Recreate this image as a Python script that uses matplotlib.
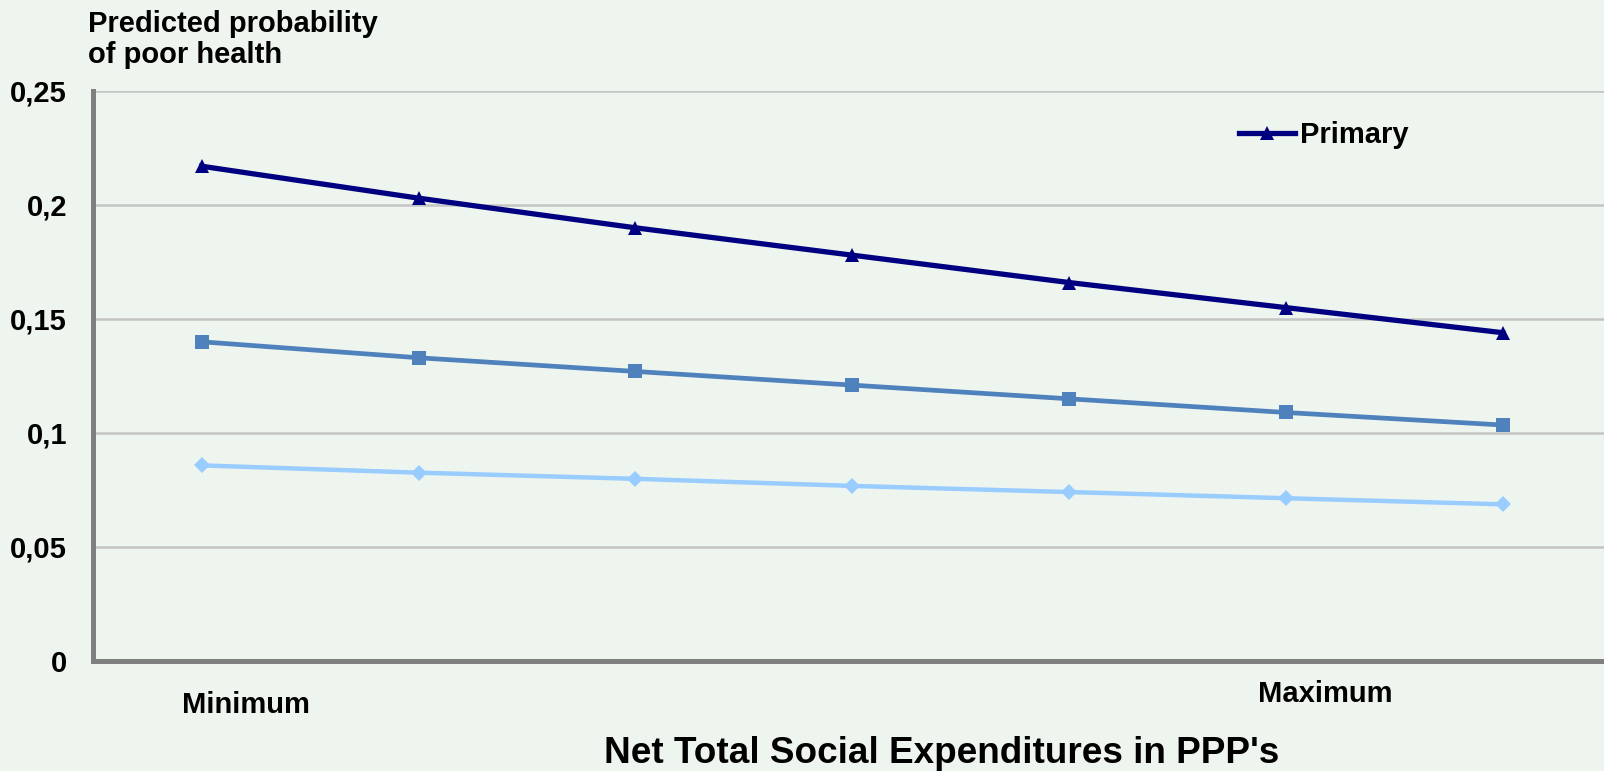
import matplotlib
matplotlib.use("Agg")
import matplotlib.pyplot as plt
from matplotlib.ticker import FixedLocator, FuncFormatter

# Predicted probability of poor health across seven steps of social expenditure
steps = list(range(7))
primary = [0.217, 0.203, 0.190, 0.178, 0.166, 0.155, 0.144]
secondary = [0.140, 0.133, 0.127, 0.121, 0.115, 0.109, 0.1035]
tertiary = [0.0858, 0.0826, 0.0799, 0.0768, 0.0741, 0.0714, 0.0687]

y_ticks = [0, 0.05, 0.1, 0.15, 0.2, 0.25]

BG = "#EEF5EE"
FONT = "Liberation Sans"
W, H = 1604, 771

fig = plt.figure(figsize=(W / 100, H / 100), dpi=100, facecolor=BG)
ax = fig.add_axes([93.3 / W, 110 / H, (1611 - 93.3) / W, 570 / H])
ax.set_facecolor(BG)

ax.set_xlim(-0.5, 6.5)
ax.set_ylim(0, 0.25)

# gridlines
for t in y_ticks[1:]:
    ax.axhline(t, color="#C4C4C4", lw=1.8, zorder=1)

ax.plot(steps, tertiary, color="#99CCFF", lw=3.2, marker="D", ms=8,
        markeredgewidth=0, zorder=3)
ax.plot(steps, secondary, color="#4F81BD", lw=3.4, marker="s", ms=10,
        markeredgewidth=0, zorder=4)
line_p, = ax.plot(steps, primary, color="#000080", lw=3.8, marker="^", ms=9.5,
                  markeredgewidth=0, zorder=5, label="Primary")

for side in ("top", "right"):
    ax.spines[side].set_visible(False)
for side in ("left", "bottom"):
    ax.spines[side].set_color("#808080")
    ax.spines[side].set_linewidth(3.6)
    ax.spines[side].set_zorder(6)

ax.set_xticks([])
ax.yaxis.set_major_locator(FixedLocator(y_ticks))
ax.yaxis.set_major_formatter(FuncFormatter(lambda v, p: f"{v:g}".replace(".", ",")))
ax.tick_params(axis="y", length=0, pad=19)
for lbl in ax.get_yticklabels():
    lbl.set_fontfamily(FONT)
    lbl.set_fontweight("bold")
    lbl.set_fontsize(21)

leg = ax.legend(handles=[line_p], loc="center left",
                bbox_to_anchor=(1239 / W, 1 - 135 / H), bbox_transform=fig.transFigure,
                frameon=False, borderpad=0, borderaxespad=0, handlelength=1.93,
                handletextpad=0.17, prop={"family": FONT, "weight": "bold", "size": 21})

def ftext(x, y, s, size, ha="left"):
    fig.text(x / W, 1 - y / H, s, ha=ha, va="baseline", fontsize=size,
             fontweight="bold", fontfamily=FONT)

ftext(88, 32, "Predicted probability", 21)
ftext(88, 63, "of poor health", 21)
ftext(246, 712.7, "Minimum", 21, ha="center")
ftext(1325, 701.7, "Maximum", 21, ha="center")
ftext(942, 763, "Net Total Social Expenditures in PPP's", 26.6, ha="center")

fig.savefig("out.png", dpi=100, facecolor=BG)
